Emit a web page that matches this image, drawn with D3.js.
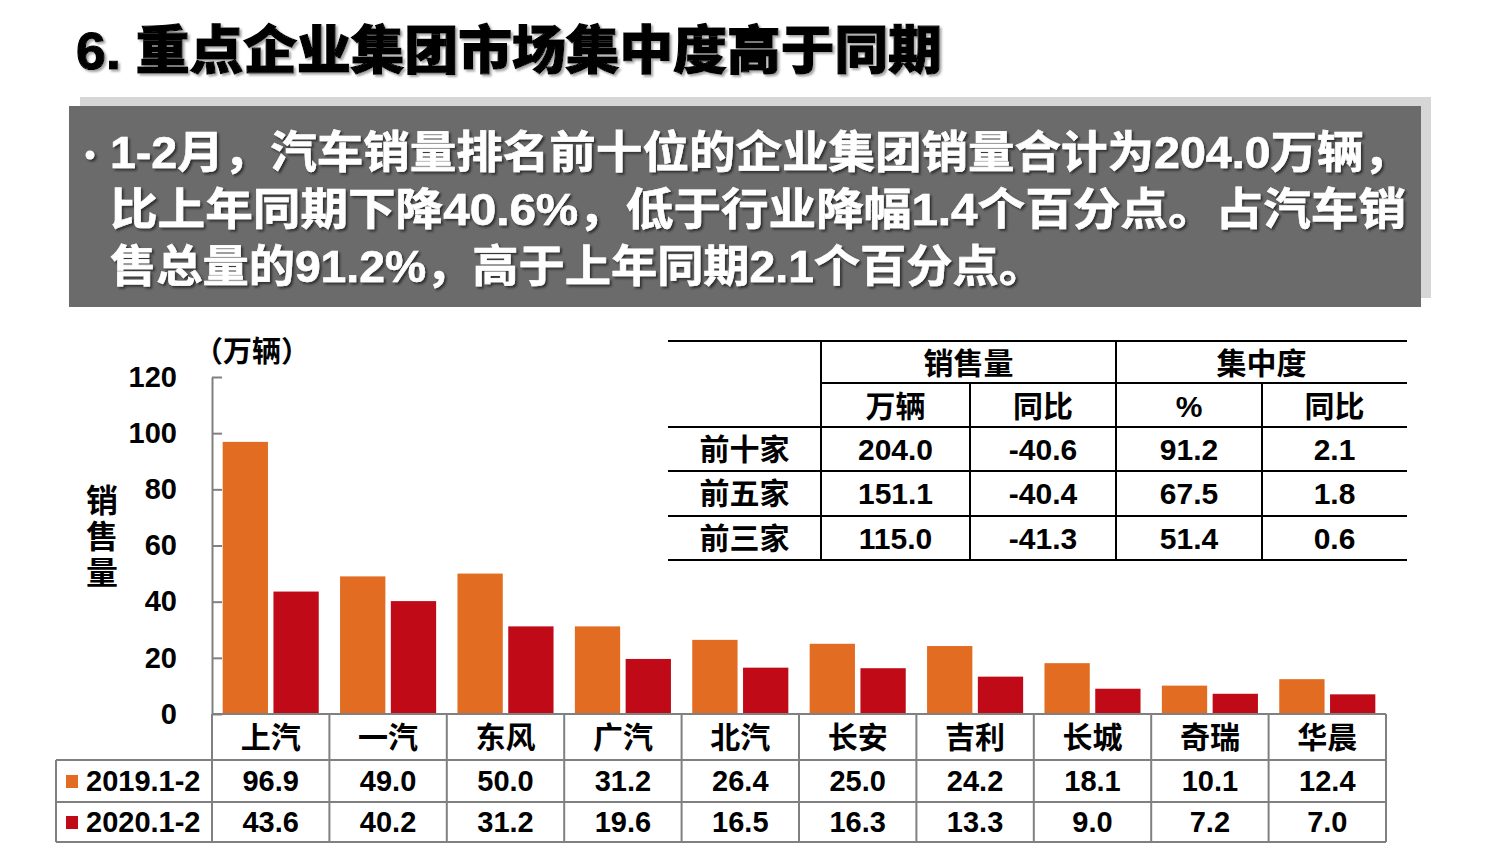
<!DOCTYPE html>
<html>
<head>
<meta charset="utf-8">
<script src="https://cdn.jsdelivr.net/npm/d3@7"></script>
<style>
  body { margin: 0; background: #fff; }
  svg text { font-family: "Liberation Sans", Arial, "Noto Sans CJK SC", sans-serif; font-weight: bold; }
</style>
</head>
<body>
<div id="chart"></div>
<script>
// chart data
const categories = ['上汽', '一汽', '东风', '广汽', '北汽', '长安', '吉利', '长城', '奇瑞', '华晨'];
const seriesNames = ['2019.1-2', '2020.1-2'];
const sales2019 = [96.9, 49.0, 50.0, 31.2, 26.4, 25.0, 24.2, 18.1, 10.1, 12.4];
const sales2020 = [43.6, 40.2, 31.2, 19.6, 16.5, 16.3, 13.3, 9.0, 7.2, 7.0];
const yTicks = [0, 20, 40, 60, 80, 100, 120];

// summary table
const groupRows = ['前十家', '前五家', '前三家'];
const groupSales = ['204.0', '151.1', '115.0'];
const groupSalesYoY = ['-40.6', '-40.4', '-41.3'];
const groupShare = ['91.2', '67.5', '51.4'];
const groupShareYoY = ['2.1', '1.8', '0.6'];

const titleText = '6. 重点企业集团市场集中度高于同期';
const bodyLines = [
  '1-2月，汽车销量排名前十位的企业集团销量合计为204.0万辆，',
  '比上年同期下降40.6%，低于行业降幅1.4个百分点。占汽车销',
  '售总量的91.2%，高于上年同期2.1个百分点。'
];

const colors = ['#E16C22', '#C00A17'];
const gridGray = '#808080';

const W = 1488, H = 868;
const svg = d3.select('#chart').append('svg')
  .attr('width', W)
  .attr('height', H);

const defs = svg.append('defs');
defs.append('filter').attr('id', 'titleShadow')
  .attr('x', '-5%').attr('y', '-20%').attr('width', '110%').attr('height', '140%')
  .append('feDropShadow')
  .attr('dx', 2).attr('dy', 2).attr('stdDeviation', 1)
  .attr('flood-color', '#9a9a9a').attr('flood-opacity', 0.9);
defs.append('filter').attr('id', 'bodyShadow')
  .attr('x', '-5%').attr('y', '-20%').attr('width', '110%').attr('height', '140%')
  .append('feDropShadow')
  .attr('dx', 2).attr('dy', 2).attr('stdDeviation', 1)
  .attr('flood-color', '#222').attr('flood-opacity', 0.8);

// title
svg.append('text')
  .attr('x', 76)
  .attr('y', 51)
  .attr('dy', '0.35em')
  .attr('textLength', 866)
  .attr('lengthAdjust', 'spacingAndGlyphs')
  .style('font-size', '52px')
  .style('font-weight', 900)
  .attr('fill', '#000')
  .attr('stroke', '#000')
  .attr('stroke-width', 1.2)
  .attr('filter', 'url(#titleShadow)')
  .text(titleText);

// text box
svg.append('rect')
  .attr('x', 80).attr('y', 97)
  .attr('width', 1351).attr('height', 201)
  .attr('fill', '#d6d6d6');
svg.append('rect')
  .attr('x', 69).attr('y', 106)
  .attr('width', 1352).attr('height', 201)
  .attr('fill', '#6b6b6b');

const body = svg.append('g').attr('filter', 'url(#bodyShadow)');
body.append('circle')
  .attr('cx', 90).attr('cy', 155).attr('r', 4.5)
  .attr('fill', '#fff');
const bodyLens = [1300, 1296, 935];
body.selectAll('.body-line')
  .data(bodyLines)
  .enter().append('text')
  .attr('class', 'body-line')
  .attr('x', 110)
  .attr('y', (d, i) => 152 + i * 57)
  .attr('dy', '0.36em')
  .attr('textLength', (d, i) => bodyLens[i])
  .attr('lengthAdjust', 'spacingAndGlyphs')
  .attr('fill', '#fff')
  .attr('stroke', '#fff')
  .attr('stroke-width', 0.6)
  .style('font-size', '44px')
  .text(d => d);

// chart scales
const plot = { left: 212, right: 1386, top: 377, bottom: 714 };
const y = d3.scaleLinear().domain([0, 120]).range([plot.bottom, plot.top]);
const x0 = d3.scaleBand().domain(categories).range([plot.left, plot.right]).padding(0);
const x1 = d3.scaleBand().domain(seriesNames).range([0, x0.bandwidth()])
  .paddingInner(0.108).paddingOuter(0.21);

const series = [sales2019, sales2020];

// bars
const groups = svg.append('g').selectAll('.group')
  .data(categories)
  .enter().append('g')
  .attr('class', 'group')
  .attr('transform', d => 'translate(' + x0(d) + ',0)');

groups.selectAll('rect')
  .data((d, i) => seriesNames.map((s, k) => ({ s: s, v: series[k][i], k: k })))
  .enter().append('rect')
  .attr('x', d => x1(d.s))
  .attr('y', d => y(d.v))
  .attr('width', x1.bandwidth())
  .attr('height', d => y(0) - y(d.v))
  .attr('fill', d => colors[d.k]);

// y axis
const yAxis = d3.axisLeft(y)
  .tickValues(yTicks)
  .tickSizeInner(-10)
  .tickSizeOuter(0)
  .tickPadding(35);

const yg = svg.append('g')
  .attr('transform', 'translate(' + plot.left + ',0)')
  .call(yAxis);
yg.select('.domain').attr('stroke', gridGray).attr('stroke-width', 2);
yg.selectAll('.tick line').attr('stroke', gridGray).attr('stroke-width', 2);
yg.selectAll('.tick text')
  .attr('fill', '#000')
  .style('font-size', '29px')
  .style('font-family', '"Liberation Sans", Arial, sans-serif')
  .style('font-weight', 'bold');

svg.append('text')
  .attr('x', 194).attr('y', 352).attr('dy', '0.35em')
  .style('font-size', '29px')
  .text('（万辆）');

svg.append('g').selectAll('text')
  .data(['销', '售', '量'])
  .enter().append('text')
  .attr('x', 102)
  .attr('y', (d, i) => 500 + i * 36)
  .attr('dy', '0.36em')
  .attr('text-anchor', 'middle')
  .style('font-size', '32px')
  .text(d => d);

// data table under the chart
const tRows = [714, 760, 802, 842];
const tableLeft = 56;
const tbl = svg.append('g');
const hline = (g, x1p, x2p, yp, col, w) => g.append('line')
  .attr('x1', x1p).attr('x2', x2p).attr('y1', yp).attr('y2', yp)
  .attr('stroke', col).attr('stroke-width', w);
const vline = (g, xp, y1p, y2p, col, w) => g.append('line')
  .attr('x1', xp).attr('x2', xp).attr('y1', y1p).attr('y2', y2p)
  .attr('stroke', col).attr('stroke-width', w);

hline(tbl, plot.left, plot.right, tRows[0], gridGray, 2);
[1, 2, 3].forEach(r => hline(tbl, tableLeft, plot.right, tRows[r], gridGray, 2));
vline(tbl, tableLeft, tRows[1], tRows[3], gridGray, 2);
categories.forEach(c => vline(tbl, x0(c), tRows[0], tRows[3], gridGray, 2));
vline(tbl, plot.right, tRows[0], tRows[3], gridGray, 2);

tbl.selectAll('.cat')
  .data(categories)
  .enter().append('text')
  .attr('class', 'cat')
  .attr('x', d => x0(d) + x0.bandwidth() / 2)
  .attr('y', 737)
  .attr('dy', '0.36em')
  .attr('text-anchor', 'middle')
  .style('font-size', '30px')
  .text(d => d);

series.forEach((vals, k) => {
  const cy = (tRows[k + 1] + tRows[k + 2]) / 2;
  tbl.selectAll('.val' + k)
    .data(vals)
    .enter().append('text')
    .attr('class', 'val' + k)
    .attr('x', (d, i) => x0(categories[i]) + x0.bandwidth() / 2)
    .attr('y', cy)
    .attr('dy', '0.36em')
    .attr('text-anchor', 'middle')
    .style('font-size', '29px')
    .text(d => d3.format('.1f')(d));
  tbl.append('rect')
    .attr('x', 66).attr('y', cy - 6)
    .attr('width', 12).attr('height', 13)
    .attr('fill', colors[k]);
  tbl.append('text')
    .attr('x', 86).attr('y', cy)
    .attr('dy', '0.36em')
    .style('font-size', '29px')
    .text(seriesNames[k]);
});

// summary table top right
const cols = [668, 821, 970, 1116, 1262, 1407];
const rows = [341, 383, 427, 471, 516, 560];
const st = svg.append('g');
hline(st, cols[0], cols[5], rows[0], '#000', 2);
hline(st, cols[1], cols[5], rows[1], '#000', 2);
[2, 3, 4, 5].forEach(r => hline(st, cols[0], cols[5], rows[r], '#000', 2));
vline(st, cols[1], rows[0], rows[5], '#000', 2);
vline(st, cols[3], rows[0], rows[5], '#000', 2);
vline(st, cols[2], rows[1], rows[5], '#000', 2);
vline(st, cols[4], rows[1], rows[5], '#000', 2);

const cell = (txt, cx, cy) => st.append('text')
  .attr('x', cx).attr('y', cy).attr('dy', '0.36em')
  .attr('text-anchor', 'middle')
  .style('font-size', '30px')
  .text(txt);

cell('销售量', (cols[1] + cols[3]) / 2, 363);
cell('集中度', (cols[3] + cols[5]) / 2, 363);
['万辆', '同比', '%', '同比'].forEach((t, i) => cell(t, (cols[i + 1] + cols[i + 2]) / 2, 406));
groupRows.forEach((r, i) => {
  const cy = (rows[i + 2] + rows[i + 3]) / 2;
  [r, groupSales[i], groupSalesYoY[i], groupShare[i], groupShareYoY[i]]
    .forEach((t, j) => cell(t, (cols[j] + cols[j + 1]) / 2, cy));
});
</script>
</body>
</html>
